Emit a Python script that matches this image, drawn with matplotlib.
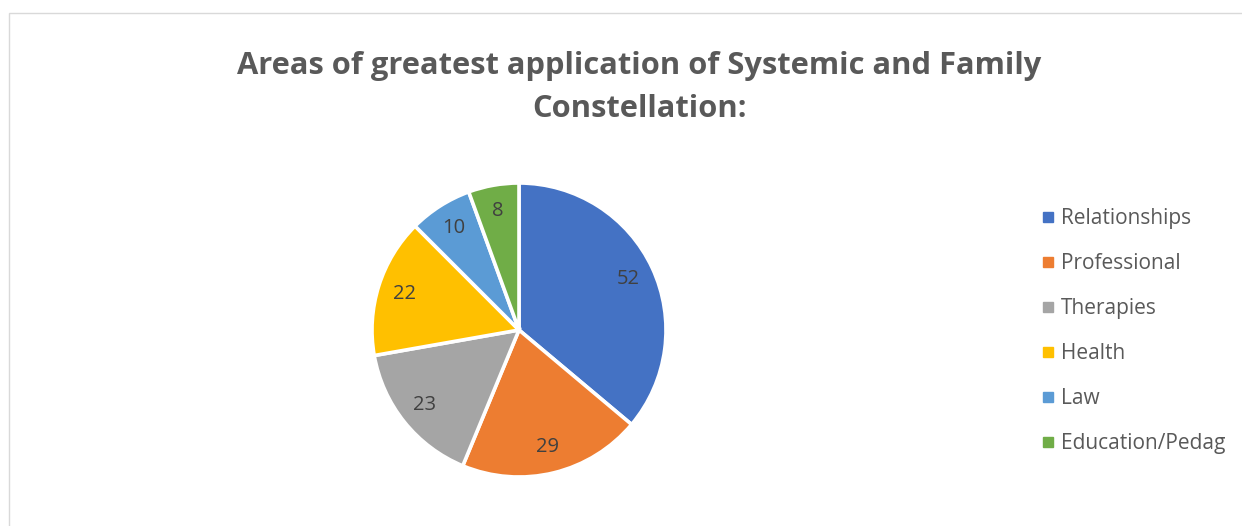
import matplotlib.pyplot as plt
from matplotlib.lines import Line2D
from matplotlib.patches import Rectangle

# chart data
labels = ["Relationships", "Professional", "Therapies", "Health", "Law", "Education/Pedag"]
values = [52, 29, 23, 22, 10, 8]
colors = ["#4472c4", "#ed7d31", "#a5a5a5", "#ffc000", "#5b9bd5", "#70ad47"]

W, H = 1242, 526
fig = plt.figure(figsize=(W / 100, H / 100), dpi=100)
plt.rcParams['font.family'] = ['Open Sans', 'DejaVu Sans']

# light chart-area border (only left and top visible in the crop)
fig.patches.append(Rectangle((8.5 / W, -0.1), 1.2, (H - 12.5) / H + 0.1,
                             transform=fig.transFigure, fill=False,
                             edgecolor="#d9d9d9", linewidth=1))

# pie centred at (519, 330) px, radius 147 px
cx, cy, r = 519, 330, 147
ax = fig.add_axes([(cx - r) / W, (H - cy - r) / H, 2 * r / W, 2 * r / H])
wedges, texts = ax.pie(values, colors=colors, startangle=90, counterclock=False,
                       labels=[str(v) for v in values], labeldistance=0.82,
                       wedgeprops=dict(edgecolor="white", linewidth=2.6))
for t in texts:
    t.set_ha("center")
    t.set_va("center")
    t.set_fontsize(14.5)
    t.set_color("#404040")
ax.set_xlim(-1, 1)
ax.set_ylim(-1, 1)
ax.set_aspect("equal")
ax.axis("off")

fig.text(639 / W, 1 - 66 / H, "Areas of greatest application of Systemic and Family",
         ha="center", va="center", fontsize=22.2, fontweight="bold", color="#595959")
fig.text(640 / W, 1 - 109 / H, "Constellation:",
         ha="center", va="center", fontsize=22.2, fontweight="bold", color="#595959")

handles = [Line2D([], [], linestyle="none", marker="s", markersize=7,
                  markerfacecolor=c, markeredgecolor=c) for c in colors]
leg = fig.legend(handles, labels, loc="upper left",
                 bbox_to_anchor=(1033 / W, 1 - 200 / H), frameon=False,
                 fontsize=15, labelspacing=1.15, handlelength=0.6,
                 handletextpad=0.35, borderaxespad=0)
for t in leg.get_texts():
    t.set_color("#595959")

fig.savefig("out.png", dpi=100)
